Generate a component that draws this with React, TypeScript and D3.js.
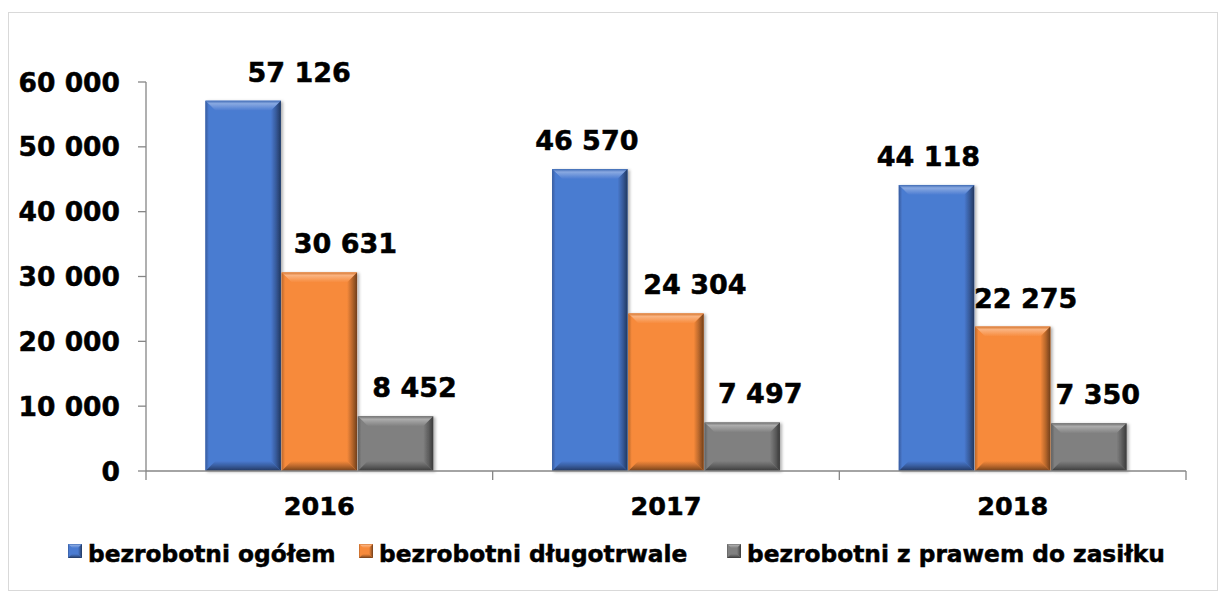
import { useEffect } from 'react'
import * as d3 from 'd3'

const YEARS = ['2016', '2017', '2018']
const SERIES = ['bezrobotni ogółem', 'bezrobotni długotrwale', 'bezrobotni z prawem do zasiłku']
const OGOLEM = [57126, 46570, 44118]
const DLUGOTRWALE = [30631, 24304, 22275]
const ZASILEK = [8452, 7497, 7350]
const Y_TICKS = [0, 10000, 20000, 30000, 40000, 50000, 60000]

const COLORS = ['#4a7bd1', '#f78a3b', '#808080']
const W = 1219
const H = 592
const PLOT = { left: 146, right: 1186, top: 82, bottom: 471 }
// label nudges (px) as placed in the original sheet, per year then series
const LABEL_DX = [[56, 26, 19], [-3, 29, 18], [-8, 13, 9]]
const FONT = '"DejaVu Sans", Verdana, sans-serif'

const fmt = (v: number) => d3.format(',')(v).replace(/,/g, ' ')

function Bevel({ x0, x1, y0, y1, b, id }: { x0: number; x1: number; y0: number; y1: number; b: number; id: string }) {
  const bb = Math.min(b, (y1 - y0) / 2, (x1 - x0) / 2)
  const pts = (a: number[][]) => a.map((p) => p.join(',')).join(' ')
  return (
    <g>
      <rect x={x0} y={y0} width={x1 - x0} height={y1 - y0} fill={`url(#${id}-face)`} />
      <polygon points={pts([[x0, y0], [x1, y0], [x1 - bb, y0 + bb], [x0 + bb, y0 + bb]])} fill={`url(#${id}-top)`} />
      <polygon points={pts([[x0, y0], [x0 + bb, y0 + bb], [x0 + bb, y1 - bb], [x0, y1]])} fill={`url(#${id}-left)`} />
      <polygon points={pts([[x1, y0], [x1, y1], [x1 - bb, y1 - bb], [x1 - bb, y0 + bb]])} fill={`url(#${id}-right)`} />
      <polygon points={pts([[x0, y1], [x0 + bb, y1 - bb], [x1 - bb, y1 - bb], [x1, y1]])} fill={`url(#${id}-bottom)`} />
    </g>
  )
}

function Gradients({ id, color }: { id: string; color: string }) {
  const base = d3.color(color)!
  const light = d3.interpolateRgb(color, '#ffffff')(0.35)
  const dark = base.darker(2.2).formatHex()
  const mid = base.darker(0.8).formatHex()
  return (
    <>
      <linearGradient id={`${id}-face`} x1="0" y1="0" x2="0" y2="1">
        <stop offset="0" stopColor={color} />
        <stop offset="1" stopColor={color} />
      </linearGradient>
      <linearGradient id={`${id}-top`} x1="0" y1="0" x2="0" y2="1">
        <stop offset="0" stopColor={base.darker(0.4).formatHex()} />
        <stop offset="0.3" stopColor={light} />
        <stop offset="1" stopColor={color} />
      </linearGradient>
      <linearGradient id={`${id}-left`} x1="0" y1="0" x2="1" y2="0">
        <stop offset="0" stopColor={mid} />
        <stop offset="0.35" stopColor={color} />
        <stop offset="1" stopColor={color} />
      </linearGradient>
      <linearGradient id={`${id}-right`} x1="0" y1="0" x2="1" y2="0">
        <stop offset="0" stopColor={color} />
        <stop offset="0.5" stopColor={mid} />
        <stop offset="1" stopColor={dark} />
      </linearGradient>
      <linearGradient id={`${id}-bottom`} x1="0" y1="0" x2="0" y2="1">
        <stop offset="0" stopColor={color} />
        <stop offset="0.5" stopColor={mid} />
        <stop offset="1" stopColor={dark} />
      </linearGradient>
    </>
  )
}

export default function App() {
  useEffect(() => {
    document.body.style.margin = '0'
  }, [])

  const values = [OGOLEM, DLUGOTRWALE, ZASILEK]
  const x0 = d3.scaleBand().domain(YEARS).range([PLOT.left, PLOT.right]).padding(0)
  const x1 = d3.scaleBand().domain(SERIES).range([0, x0.bandwidth()]).paddingInner(0.01).paddingOuter(0.78)
  const y = d3.scaleLinear().domain([0, 60000]).range([PLOT.bottom, PLOT.top])
  const boundaries = [...YEARS.map((c) => x0(c)!), PLOT.right]

  const legendX = [68, 359, 727]
  const heavy = { fontWeight: 'bold' as const, stroke: '#000', strokeWidth: 0.5 }

  return (
    <svg width={W} height={H} style={{ display: 'block', fontFamily: FONT }}>
      <defs>
        {COLORS.map((c, i) => <Gradients key={i} id={`g${i}`} color={c} />)}
        <filter id="shadow" x="-10%" y="-10%" width="130%" height="130%">
          <feDropShadow dx="2" dy="1" stdDeviation="1.5" floodColor="#000" floodOpacity="0.3" />
        </filter>
      </defs>
      <rect x={8.5} y={12.5} width={1209} height={578} fill="#fff" stroke="#d9d9d9" />

      {/* y axis */}
      <line x1={PLOT.left} x2={PLOT.left} y1={y(60000)} y2={y(0)} stroke="#868686" strokeWidth={1.3} />
      {Y_TICKS.map((t) => (
        <g key={t}>
          <line x1={PLOT.left - 8} x2={PLOT.left} y1={y(t)} y2={y(t)} stroke="#868686" strokeWidth={1.3} />
          <text x={120} y={y(t)} textAnchor="end" dominantBaseline="central" fontSize={26.5} {...heavy}>{fmt(t)}</text>
        </g>
      ))}

      {/* bars */}
      {YEARS.map((yr, ci) => (
        <g key={yr}>
          {SERIES.map((s, si) => {
            const bx = x0(yr)! + x1(s)!
            const v = values[si][ci]
            return (
              <g key={s} filter="url(#shadow)">
                <Bevel x0={bx} x1={bx + x1.bandwidth()} y0={y(v)} y1={y(0)} b={10} id={`g${si}`} />
              </g>
            )
          })}
        </g>
      ))}

      {/* x axis */}
      <line x1={PLOT.left} x2={PLOT.right} y1={PLOT.bottom} y2={PLOT.bottom} stroke="#868686" strokeWidth={1.3} />
      {boundaries.map((bx, i) => (
        <line key={i} x1={bx} x2={bx} y1={PLOT.bottom} y2={PLOT.bottom + 9} stroke="#868686" strokeWidth={1.3} />
      ))}
      {YEARS.map((yr) => (
        <text key={yr} x={x0(yr)! + x0.bandwidth() / 2} y={506} textAnchor="middle" dominantBaseline="central" fontSize={25.5} {...heavy}>{yr}</text>
      ))}

      {/* data labels */}
      {YEARS.map((yr, ci) =>
        SERIES.map((s, si) => {
          const v = values[si][ci]
          const cx = x0(yr)! + x1(s)! + x1.bandwidth() / 2 + LABEL_DX[ci][si]
          return (
            <text key={yr + s} x={cx} y={y(v) - 19} textAnchor="middle" fontSize={27} {...heavy}>{fmt(v)}</text>
          )
        })
      )}

      {/* legend */}
      {SERIES.map((s, i) => (
        <g key={s}>
          <Bevel x0={legendX[i]} x1={legendX[i] + 14} y0={544} y1={558} b={4} id={`g${i}`} />
          <text x={legendX[i] + 20} y={553} dominantBaseline="central" fontSize={23.3} {...heavy}>{s}</text>
        </g>
      ))}
    </svg>
  )
}
